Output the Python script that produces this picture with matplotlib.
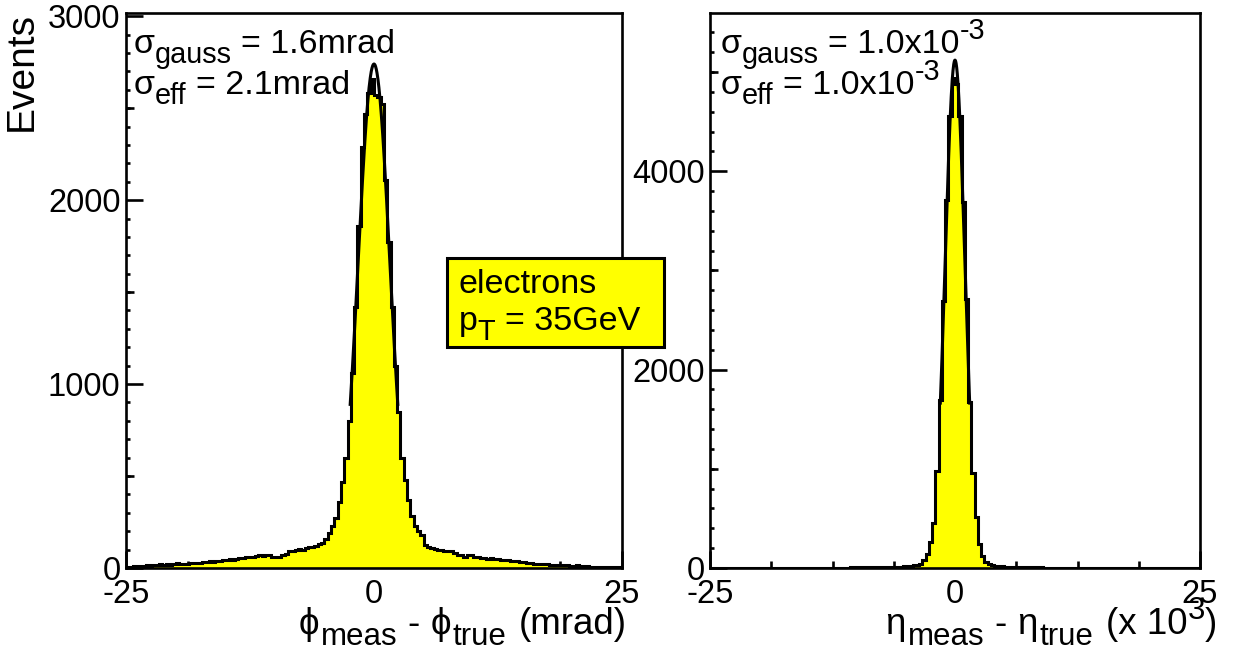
import numpy as np
import matplotlib
matplotlib.use("Agg")
import matplotlib.pyplot as plt
from matplotlib.patches import Rectangle
from matplotlib.transforms import IdentityTransform

plt.rcParams['font.family'] = ['Liberation Sans', 'DejaVu Sans']
plt.rcParams['mathtext.fontset'] = 'custom'
plt.rcParams['mathtext.rm'] = 'Liberation Sans'
plt.rcParams['mathtext.it'] = 'Liberation Sans'
plt.rcParams['axes.unicode_minus'] = False

# ---------------- data ----------------
x_range = (-25.0, 25.0)
n_bins = 150

phi_tail_left = [5, 8, 10, 10, 12, 12, 14, 12, 15, 16, 20, 18, 22, 18, 20, 25, 22, 20,
                 24, 28, 26, 28, 26, 30, 32, 36, 30, 38, 40, 44, 42, 50, 46, 48, 52, 55,
                 58, 62, 60, 66, 70, 64, 72, 68, 60, 58, 62, 70, 78, 90, 95, 98, 102, 100,
                 110, 112, 115]
phi_core = [120, 130, 135, 160, 190, 230, 270, 360, 470, 600, 800, 1060, 1420, 1860,
            2290, 2470, 2580, 2660, 2570, 2560, 2520, 2110, 1770, 1420, 1100, 850, 600,
            480, 370, 280, 230, 200, 180, 125, 115, 110]
phi_tail_right = [105, 100, 98, 95, 92, 90, 80, 72, 70, 62, 68, 70, 60, 58, 55, 52, 50, 52,
                  50, 48, 46, 44, 42, 40, 38, 36, 34, 30, 28, 26, 24, 22, 20, 20, 22, 18,
                  16, 18, 15, 15, 14, 12, 12, 14, 10, 10, 9, 8, 8, 7, 6, 6, 5, 5, 4, 4, 3]

eta_tail_left = [0, 0, 1, 0, 0, 1, 0, 1, 0, 1, 1, 0, 1, 1, 0, 1, 1, 2, 1, 1,
                 2, 1, 2, 2, 1, 2, 2, 3, 2, 3,
                 3, 2, 3, 3, 4, 3, 4, 4, 3, 5, 4, 5, 5, 6, 5,
                 6, 6, 7, 7, 8, 7, 8, 9, 9, 10, 11, 12,
                 13, 15, 17, 20, 22, 28, 34, 42]
eta_core = [80, 140, 259, 458, 976, 1693, 2690, 3705, 4560, 4940,
            4880, 4560, 3685, 2709, 1673, 956, 518, 239, 120, 60]
eta_tail_right = [36, 28, 22, 19, 16, 14, 12, 11,
                  10, 10, 9, 8, 8, 7, 7, 6, 6, 5, 5, 5,
                  4, 5, 4, 4, 3, 4, 3, 3, 2, 3, 2, 2, 3, 2, 2,
                  2, 1, 2, 1, 1, 2, 1, 1, 1, 0, 1, 1, 0, 1, 0, 1, 0, 0, 1, 0,
                  0, 1, 0, 0, 0, 1, 0, 0, 0, 0]

# Gaussian fit parameters (amplitude, mean, sigma)
phi_fit = (2740.0, 0.0, 1.6)
eta_fit = (5120.0, 0.0, 1.0)

phi_ylim = 3020
eta_ylim = 5600

phi_yticks = [0, 1000, 2000, 3000]
eta_yticks = [0, 2000, 4000]
x_ticklabels = ['-25', '0', '25']

# ---------------- figure ----------------
W, H = 1241, 653
fig = plt.figure(figsize=(W / 100, H / 100), dpi=100)
renderer = fig.canvas.get_renderer()


def fx(px):
    return px / W


def fy(py):
    return 1 - py / H


ax1 = fig.add_axes([fx(126), fy(568), fx(622) - fx(126), fy(12.5) - fy(568)])
ax2 = fig.add_axes([fx(710), fy(568), fx(1200) - fx(710), fy(12.5) - fy(568)])

edges = np.linspace(x_range[0], x_range[1], n_bins + 1)
phi_vals = np.array(phi_tail_left + phi_core + phi_tail_right, dtype=float)
eta_vals = np.array(eta_tail_left + eta_core + eta_tail_right, dtype=float)

YEL = '#ffff00'
LW_FRAME = 1.9
LW_HIST = 2.2
TICK_FS = 23.5


def draw(ax, vals, fit, ylim, major_y, mid_y, minor_y):
    ax.stairs(vals, edges, fill=True, color=YEL, zorder=2)
    ax.stairs(vals, edges, color='black', lw=LW_HIST, zorder=3)
    A, mu, s = fit
    xf = np.linspace(mu - 1.5 * s, mu + 1.5 * s, 200)
    ax.plot(xf, A * np.exp(-0.5 * ((xf - mu) / s) ** 2), color='black', lw=LW_HIST, zorder=4)
    ax.set_xlim(*x_range)
    ax.set_ylim(0, ylim)
    for sp in ax.spines.values():
        sp.set_linewidth(LW_FRAME)
        sp.set_zorder(5)
    ax.set_xticks([x_range[0], 0, x_range[1]])
    ax.set_xticklabels(x_ticklabels)
    ax.set_xticks(np.arange(x_range[0], x_range[1] + 0.01, 6.25), minor=True)
    ax.set_yticks(major_y)
    ax.set_yticklabels([str(v) for v in major_y])
    ax.set_yticks(minor_y, minor=True)
    ax.tick_params(axis='both', which='major', direction='in', length=12, width=LW_FRAME,
                   labelsize=TICK_FS, top=False, right=False)
    ax.tick_params(axis='x', which='major', pad=8)
    ax.tick_params(axis='y', which='major', pad=4)
    ax.tick_params(axis='x', which='minor', direction='in', length=5, width=LW_FRAME,
                   top=False)
    ax.tick_params(axis='y', which='minor', direction='in', length=3, width=LW_FRAME,
                   right=False)
    sec = ax.secondary_yaxis('left')
    sec.set_yticks(mid_y)
    sec.tick_params(axis='y', which='major', direction='in', length=6, width=LW_FRAME,
                    labelleft=False)
    sec.tick_params(axis='y', which='minor', left=False)
    sec.spines['left'].set_visible(False)


draw(ax1, phi_vals, phi_fit, phi_ylim, phi_yticks, [500, 1500, 2500],
     np.arange(0, phi_ylim, 100))
draw(ax2, eta_vals, eta_fit, eta_ylim, eta_yticks, [1000, 3000, 5000],
     np.arange(0, eta_ylim, 200))

TXT = 24.5
SUB = 0.85


def rich(x_px, y_px, parts, ha='left', size=TXT, zorder=11, sub=SUB):
    """parts: list of (text, kind, gap_after_in_spaces); y_px = baseline from top."""
    em = size * 100 / 72.0
    space = 0.278 * em
    texts = []
    widths = []
    for s, kind, gap in parts:
        if kind == 'n':
            fs, dy = size, 0.0
        elif kind == 'sub':
            fs, dy = size * sub, -0.30 * em
        else:
            fs, dy = size * sub, 0.42 * em
        t = fig.text(0, 0, s, fontsize=fs, ha='left', va='baseline',
                     transform=IdentityTransform(), zorder=zorder)
        w = t.get_window_extent(renderer).width
        texts.append((t, dy))
        widths.append(w + gap * space)
    total = sum(widths)
    x0 = x_px if ha == 'left' else x_px - total
    ybase = H - y_px
    cx = x0
    for (t, dy), w in zip(texts, widths):
        t.set_position((cx, ybase + dy))
        cx += w


# y-axis title
fig.text(fx(4), fy(12), 'Events', rotation=90, ha='left', va='top', fontsize=28)

# x-axis titles
XT = 26.5
rich(627, 634, [('ϕ', 'n', 0.2), ('meas', 'sub', 1.0), ('-', 'n', 1.0), ('ϕ', 'n', 0.2),
                ('true', 'sub', 1.2), ('(mrad)', 'n', 0)], ha='right', size=XT)
rich(1217, 634, [('η', 'n', 0.2), ('meas', 'sub', 1.0), ('-', 'n', 1.0), ('η', 'n', 0.2),
                 ('true', 'sub', 1.2), ('(x 10', 'n', 0), ('3', 'sup', 0), (')', 'n', 0)],
     ha='right', size=XT)

# annotations
rich(134, 53, [('σ', 'n', 0), ('gauss', 'sub', 1), ('= 1.6mrad', 'n', 0)])
rich(134, 94, [('σ', 'n', 0), ('eff', 'sub', 1), ('= 2.1mrad', 'n', 0)])
rich(721, 53, [('σ', 'n', 0), ('gauss', 'sub', 1), ('= 1.0x10', 'n', 0), ('-3', 'sup', 0)])
rich(721, 94, [('σ', 'n', 0), ('eff', 'sub', 1), ('= 1.0x10', 'n', 0), ('-3', 'sup', 0)])

# legend-like box
box = Rectangle((fx(447), fy(347)), fx(664) - fx(447), fy(258) - fy(347),
                transform=fig.transFigure, facecolor=YEL, edgecolor='black',
                linewidth=2.2, zorder=10)
fig.add_artist(box)
rich(459, 293, [('electrons', 'n', 0)])
rich(459, 330, [('p', 'n', 0), ('T', 'sub', 1), ('= 35GeV', 'n', 0)])

fig.savefig('out.png', dpi=100)
